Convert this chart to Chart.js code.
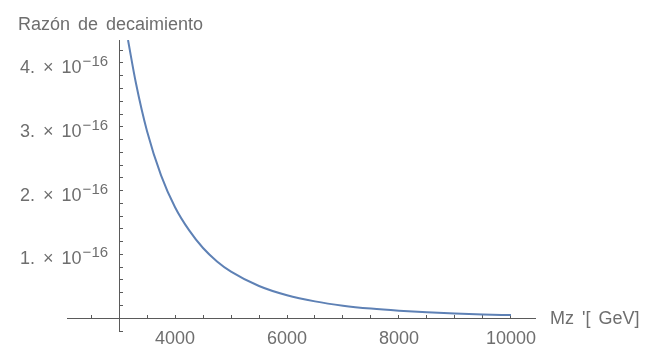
<!DOCTYPE html>
<html>
<head>
<meta charset="utf-8">
<script src="https://cdn.jsdelivr.net/npm/chart.js@4/dist/chart.umd.min.js"></script>
<style>
  html, body { margin: 0; padding: 0; background: #fff; }
  canvas { display: block; }
</style>
</head>
<body>
<canvas id="chart" width="650" height="348"></canvas>
<script>
// Mz' en GeV
const masas = [3160, 3300, 3500, 3750, 4000, 4250, 4500, 4750, 5000, 5500, 6000, 6500, 7000, 7500, 8000, 8500, 9000, 9500, 10000];
// razón de decaimiento, en unidades de 10^-16
const razon = [4.36, 3.69, 2.93, 2.24, 1.74, 1.38, 1.10, 0.89, 0.73, 0.505, 0.36, 0.264, 0.197, 0.151, 0.118, 0.093, 0.074, 0.060, 0.049];

// marcas y etiquetas de los ejes
const xMarcas = [2500, 3000, 3500, 4000, 4500, 5000, 5500, 6000, 6500, 7000, 7500, 8000, 8500, 9000, 9500, 10000];
const xEtiquetas = [4000, 6000, 8000, 10000];
const yMarcas = [-0.2, 0, 0.2, 0.4, 0.6, 0.8, 1, 1.2, 1.4, 1.6, 1.8, 2, 2.2, 2.4, 2.6, 2.8, 3, 3.2, 3.4, 3.6, 3.8, 4, 4.2];
const yEtiquetas = [1, 2, 3, 4];

const gris = '#6e6e6e';
const ejes = '#5a5a5a';
const fuente = '"Liberation Sans", Arial, sans-serif';

// títulos de los ejes y etiquetas "n. × 10^-16"
const textos = {
    id: 'textos',
    afterDraw(chart) {
        const ctx = chart.ctx;
        const sx = chart.scales.x, sy = chart.scales.y;
        const x0 = sx.getPixelForValue(3000);
        ctx.save();
        ctx.fillStyle = gris;
        if ('wordSpacing' in ctx) ctx.wordSpacing = '3px';
        ctx.font = '18px ' + fuente;
        ctx.textAlign = 'left';
        ctx.textBaseline = 'alphabetic';
        ctx.fillText('Razón de decaimiento', 18, 30);
        ctx.textBaseline = 'middle';
        ctx.fillText("Mz '[ GeV]", sx.right + 15, sy.getPixelForValue(0) + 1);

        ctx.textAlign = 'right';
        ctx.textBaseline = 'alphabetic';
        yEtiquetas.forEach(n => {
            const y = sy.getPixelForValue(n);
            const xr = x0 - 11;
            ctx.font = '15px ' + fuente;
            ctx.fillText('\u221216', xr, y + 3);
            const w = ctx.measureText('\u221216').width;
            ctx.font = '18px ' + fuente;
            ctx.fillText(n + '. × 10', xr - w - 1, y + 10);
        });
        ctx.restore();
    }
};

new Chart(document.getElementById('chart'), {
    type: 'line',
    data: {
        datasets: [{
            data: masas.map((m, i) => ({ x: m, y: razon[i] })),
            borderColor: '#5E81B5',
            borderWidth: 2,
            pointRadius: 0,
            fill: false,
            cubicInterpolationMode: 'monotone'
        }]
    },
    options: {
        responsive: false,
        animation: false,
        layout: { padding: { left: 67, right: 115, top: 40, bottom: 17 } },
        plugins: { legend: { display: false }, tooltip: { enabled: false } },
        scales: {
            x: {
                type: 'linear',
                position: { y: 0 },
                min: 2070,
                max: 10430,
                afterFit: s => { s.height = 0; },
                afterBuildTicks: s => { s.ticks = xMarcas.map(v => ({ value: v })); },
                border: { display: true, color: ejes, width: 1 },
                grid: { drawOnChartArea: false, drawTicks: true, tickLength: -4, tickColor: ejes },
                ticks: {
                    autoSkip: false,
                    maxRotation: 0,
                    padding: 14,
                    color: gris,
                    font: { size: 18, family: fuente },
                    callback: v => xEtiquetas.includes(v) ? String(v) : ''
                }
            },
            y: {
                type: 'linear',
                position: { x: 3000 },
                min: -0.2,
                max: 4.36,
                afterFit: s => { s.width = 0; },
                afterBuildTicks: s => { s.ticks = yMarcas.map(v => ({ value: v })); },
                border: { display: true, color: ejes, width: 1 },
                grid: { drawOnChartArea: false, drawTicks: true, tickLength: -4, tickColor: ejes },
                ticks: {
                    autoSkip: false,
                    callback: () => ''
                }
            }
        }
    },
    plugins: [textos]
});
</script>
</body>
</html>
